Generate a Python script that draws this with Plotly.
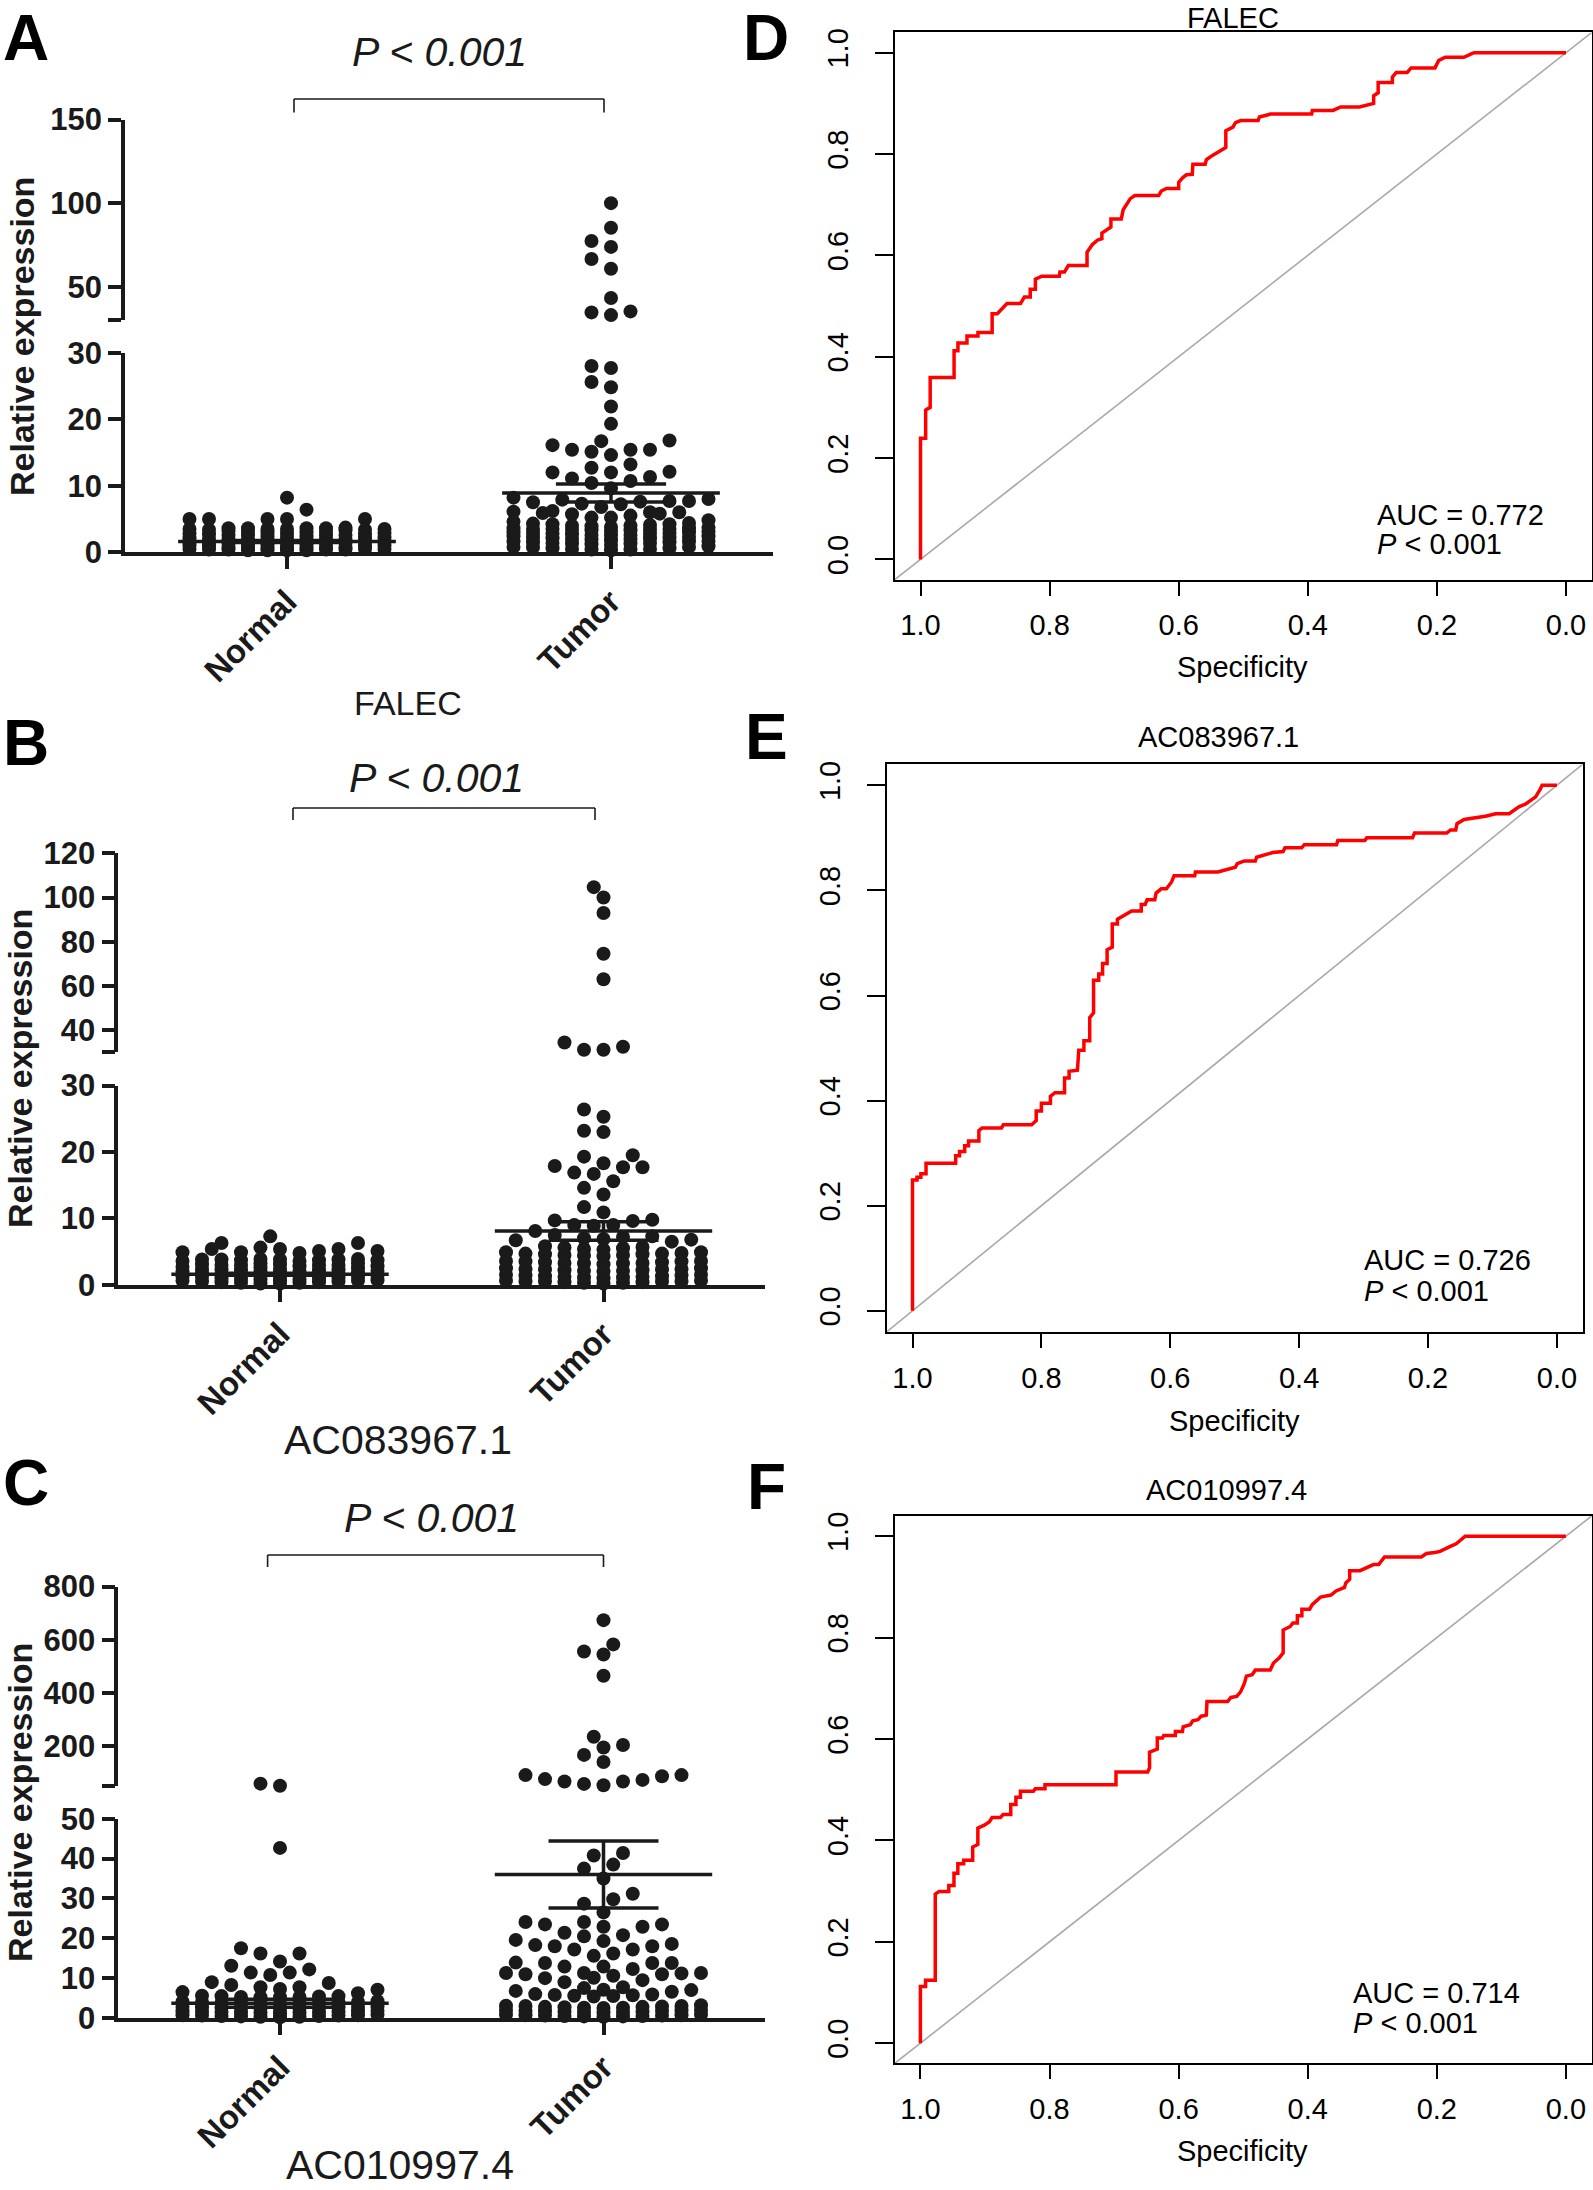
import plotly.graph_objects as go

W, H = 1593, 2190
FONT = "Liberation Sans, Arial, Helvetica, sans-serif"
INK = "#1a1a1a"

# ---------------------------------------------------------------- data
groups = ["Normal", "Tumor"]
genes = ["FALEC", "AC083967.1", "AC010997.4"]

falec_normal = [8.2, 6.4, 5.0, 5.0, 5.0, 5.0, 5.0,
                3.6, 3.5, 3.6, 3.4, 3.5, 3.7, 3.5, 3.6, 3.4, 3.5, 3.6, 3.3,
                0.3, 0.4, 0.3, 0.5, 0.4, 0.3, 0.6, 0.4, 0.5, 0.3, 0.4, 0.5,
                0.7, 0.8, 0.9, 0.7, 1.0, 0.8, 0.9, 1.1, 0.7, 1.0, 0.8,
                1.2, 1.3, 1.4, 1.2, 1.5, 1.3, 1.6, 1.4, 1.2, 1.5, 1.7,
                1.8, 2.0, 1.9, 2.1, 1.8, 2.2, 2.0, 1.9, 2.3, 2.1, 1.8,
                2.4, 2.6, 2.5, 2.7, 2.4, 2.8, 2.6, 2.5, 2.9, 2.7,
                3.0, 3.1, 2.9, 3.2, 3.0, 3.1]
falec_tumor = [100, 85.3, 77.3, 73.8, 66.6, 60.7, 43.2, 35.2, 34.6, 33.0,
               28.0, 27.7, 25.6, 24.8, 21.9, 19.3, 16.8, 16.7, 16.1, 15.4, 15.4, 15.4,
               15.1, 14.6, 13.2, 12.7, 12.1, 12.0, 12.0, 11.3, 11.1, 10.7, 10.4, 9.6,
               8.2, 8.0, 7.9, 7.7, 7.7, 7.6, 7.5, 7.3, 7.2, 6.8, 6.2, 6.1, 6.0, 6.0,
               5.9, 5.8, 5.7, 5.5, 5.2, 5.2,
               4.8, 4.6, 4.4, 4.2, 4.0, 4.1, 4.3, 3.9, 4.0, 3.8, 4.2,
               3.6, 3.4, 3.5, 3.7, 3.3, 3.5, 3.6, 3.4, 3.2, 3.5, 3.3,
               2.8, 3.0, 2.6, 2.9, 2.7, 3.1, 2.5, 2.8, 3.0, 2.6, 2.9,
               2.0, 2.2, 1.9, 2.4, 2.1, 2.3, 1.8, 2.2, 2.0, 2.4, 2.1,
               1.3, 1.5, 1.2, 1.6, 1.4, 1.7, 1.1, 1.5, 1.3, 1.6, 1.4,
               0.5, 0.7, 0.4, 0.8, 0.6, 0.9, 0.3, 0.6, 0.5, 0.8, 0.4]
falec_mean = [1.6, 8.9]
falec_sem = [0.15, 1.35]

ac083_normal = [7.3, 6.3, 6.3, 5.6, 5.4, 5.4, 5.4, 5.1, 5.1, 4.9, 4.9, 4.8,
                3.8, 3.8, 3.7, 3.6, 3.9, 3.7, 3.8, 3.6, 3.9, 3.7, 3.8,
                3.0, 2.8, 3.2, 2.9, 3.1, 2.7, 3.0, 2.8, 3.2, 2.9, 3.1,
                2.2, 2.0, 2.4, 2.1, 2.3, 1.9, 2.2, 2.0, 2.4, 2.1, 2.3,
                1.4, 1.2, 1.6, 1.3, 1.5, 1.1, 1.4, 1.2, 1.6, 1.3, 1.5,
                0.6, 0.4, 0.8, 0.5, 0.7, 0.3, 0.6, 0.4, 0.8, 0.5, 0.7,
                1.0, 0.9, 1.8, 1.7, 2.6, 0.2, 0.3, 0.2, 1.0, 2.5, 1.9]
ac083_tumor = [104.7, 100, 93, 74.5, 63, 34.3, 32.4, 31.0, 31.0,
               26.4, 25.3, 23.2, 23.0, 19.5, 19.3, 18.3, 17.9, 17.7, 17.7, 16.9, 16.7,
               15.6, 14.6, 13.6, 11.7, 10.9, 9.8, 9.7, 9.6, 9.0, 9.0, 8.9, 8.1,
               7.5, 7.3, 7.0, 6.9, 6.7, 6.5, 6.8, 7.2, 5.6, 5.5, 5.8, 5.4, 5.7, 5.3,
               4.9, 4.6, 4.5, 4.7, 4.4, 4.8, 4.5, 4.6, 4.3, 4.7, 4.9,
               3.5, 3.2, 3.6, 3.3, 3.4, 3.1, 3.5, 3.2, 3.6, 3.3, 3.4,
               2.4, 2.1, 2.5, 2.2, 2.3, 2.0, 2.4, 2.1, 2.5, 2.2, 2.3,
               1.4, 1.1, 1.5, 1.2, 1.3, 1.0, 1.4, 1.1, 1.5, 1.2, 1.3,
               0.5, 0.3, 0.6, 0.4, 0.5, 0.2, 0.5, 0.3, 0.6, 0.4, 0.5]
ac083_mean = [1.6, 8.1]
ac083_sem = [0.15, 1.4]

ac010_normal = [60, 52,
                42.7, 17.5, 16.2, 16.2, 14.2, 13.1, 12.2, 11.4, 11.4, 10.8, 9.0, 8.8,
                8.3, 7.7, 7.7, 7.3, 7.1, 6.5, 6.2,
                5.5, 5.3, 5.6, 5.2, 5.4, 5.5, 5.3, 5.2,
                4.0, 3.6, 4.2, 3.8, 3.5, 4.1, 3.7, 3.9, 3.6, 4.0, 3.8,
                2.6, 2.8, 2.4, 2.9, 2.5, 2.7, 2.3, 2.8, 2.6, 2.4, 2.7,
                1.5, 1.7, 1.3, 1.8, 1.4, 1.6, 1.2, 1.7, 1.5, 1.3, 1.6,
                0.5, 0.7, 0.3, 0.8, 0.4, 0.6, 0.2, 0.7, 0.5, 0.3, 0.6]
ac010_tumor = [674, 583, 556, 545, 465, 236, 205, 196, 168, 141,
               92, 92, 88, 77, 74, 68, 68, 59, 54,
               41.4, 40.8, 38.5, 37.5, 35.0, 31.2, 29.8, 28.7, 26.5, 24.1, 24.1,
               23.5, 23.5, 22.9, 22.9, 21.4, 20.8, 20.5, 19.6, 19.3, 18.6, 18.3,
               18.0, 18.0, 17.2, 17.2, 16.2, 15.6, 13.9, 13.8, 13.8, 13.8, 12.9,
               12.9, 12.3, 11.3, 11.3, 11.0, 11.3, 11.0, 10.6, 11.2, 10.1, 10.0,
               9.5, 9.0, 7.7, 7.1, 6.8, 7.0, 7.5, 6.6,
               5.8, 5.5, 5.9, 5.6, 5.4, 6.0, 5.7,
               3.0, 2.6, 3.2, 2.8, 2.5, 3.1, 2.7, 2.9, 2.6, 3.0, 2.8,
               1.8, 1.5, 2.0, 1.6, 1.9, 1.4, 1.7, 2.0, 1.6, 1.8, 1.5,
               0.6, 0.4, 0.8, 0.5, 0.7, 0.3, 0.6, 0.4, 0.8, 0.5, 0.7]
ac010_mean = [3.7, 36.0]
ac010_sem = [1.0, 8.4]

# ROC curves (specificity, sensitivity)
falec_spec = [1.000, 1.000, 0.992, 0.992, 0.985, 0.985, 0.948, 0.948, 0.942, 0.942,
              0.928, 0.928, 0.911, 0.911, 0.889, 0.889, 0.881, 0.866, 0.845, 0.839,
              0.830, 0.830, 0.822, 0.822, 0.812, 0.785, 0.784, 0.777, 0.771, 0.742,
              0.742, 0.734, 0.726, 0.719, 0.719, 0.705, 0.705, 0.689, 0.686, 0.681,
              0.675, 0.668, 0.631, 0.627, 0.619, 0.600, 0.600, 0.594, 0.588, 0.579,
              0.578, 0.559, 0.557, 0.549, 0.537, 0.527, 0.527, 0.516, 0.512, 0.504,
              0.477, 0.475, 0.463, 0.458, 0.394, 0.393, 0.361, 0.349, 0.320, 0.310,
              0.298, 0.298, 0.291, 0.291, 0.269, 0.269, 0.263, 0.246, 0.240, 0.203,
              0.197, 0.187, 0.158, 0.146, 0.142, 0.000]
falec_sens = [0.000, 0.239, 0.239, 0.295, 0.300, 0.359, 0.359, 0.412, 0.412, 0.427,
              0.427, 0.441, 0.441, 0.448, 0.448, 0.485, 0.485, 0.505, 0.505, 0.518,
              0.518, 0.533, 0.533, 0.553, 0.559, 0.559, 0.567, 0.567, 0.580, 0.580,
              0.606, 0.621, 0.630, 0.633, 0.644, 0.656, 0.672, 0.672, 0.690, 0.700,
              0.712, 0.718, 0.718, 0.727, 0.732, 0.732, 0.744, 0.753, 0.759, 0.760,
              0.780, 0.780, 0.789, 0.796, 0.806, 0.813, 0.846, 0.853, 0.862, 0.866,
              0.866, 0.873, 0.877, 0.879, 0.879, 0.886, 0.886, 0.893, 0.893, 0.897,
              0.900, 0.915, 0.921, 0.941, 0.941, 0.952, 0.961, 0.961, 0.970, 0.970,
              0.985, 0.991, 0.991, 0.998, 1.000, 1.000]

ac083_spec = [1.000, 1.000, 0.993, 0.993, 0.987, 0.987, 0.979, 0.979, 0.933, 0.933,
              0.927, 0.927, 0.919, 0.919, 0.913, 0.913, 0.897, 0.897, 0.892, 0.862,
              0.859, 0.815, 0.808, 0.808, 0.800, 0.800, 0.786, 0.786, 0.779, 0.764,
              0.764, 0.757, 0.757, 0.744, 0.742, 0.734, 0.734, 0.725, 0.725, 0.719,
              0.719, 0.711, 0.711, 0.705, 0.705, 0.698, 0.698, 0.690, 0.690, 0.682,
              0.682, 0.660, 0.645, 0.645, 0.639, 0.636, 0.624, 0.622, 0.614, 0.606,
              0.598, 0.594, 0.562, 0.561, 0.526, 0.499, 0.496, 0.485, 0.468, 0.466,
              0.441, 0.425, 0.422, 0.396, 0.392, 0.342, 0.340, 0.298, 0.295, 0.224,
              0.221, 0.171, 0.165, 0.157, 0.155, 0.144, 0.111, 0.095, 0.074, 0.059,
              0.049, 0.033, 0.026, 0.023, 0.000]
ac083_sens = [0.000, 0.249, 0.249, 0.254, 0.254, 0.261, 0.261, 0.281, 0.281, 0.295,
              0.295, 0.303, 0.303, 0.314, 0.314, 0.323, 0.323, 0.343, 0.348, 0.348,
              0.354, 0.354, 0.362, 0.380, 0.380, 0.395, 0.395, 0.408, 0.415, 0.415,
              0.443, 0.443, 0.456, 0.458, 0.496, 0.496, 0.514, 0.514, 0.558, 0.567,
              0.629, 0.629, 0.641, 0.641, 0.661, 0.661, 0.687, 0.692, 0.736, 0.736,
              0.745, 0.761, 0.761, 0.773, 0.773, 0.782, 0.782, 0.795, 0.803, 0.803,
              0.816, 0.828, 0.828, 0.835, 0.835, 0.844, 0.851, 0.856, 0.856, 0.863,
              0.872, 0.874, 0.881, 0.881, 0.887, 0.887, 0.895, 0.895, 0.900, 0.900,
              0.909, 0.909, 0.915, 0.915, 0.927, 0.935, 0.941, 0.946, 0.946, 0.959,
              0.964, 0.978, 0.992, 1.000, 1.000]

ac010_spec = [1.000, 1.000, 0.992, 0.992, 0.977, 0.977, 0.971, 0.956, 0.956, 0.948,
              0.948, 0.942, 0.942, 0.933, 0.933, 0.919, 0.919, 0.911, 0.911, 0.901,
              0.893, 0.889, 0.876, 0.872, 0.860, 0.860, 0.852, 0.852, 0.845, 0.845,
              0.825, 0.822, 0.807, 0.807, 0.697, 0.697, 0.648, 0.645, 0.645, 0.633,
              0.633, 0.625, 0.623, 0.605, 0.605, 0.594, 0.593, 0.582, 0.578, 0.570,
              0.565, 0.557, 0.556, 0.524, 0.519, 0.510, 0.504, 0.498, 0.495, 0.486,
              0.481, 0.458, 0.453, 0.444, 0.438, 0.438, 0.427, 0.423, 0.416, 0.416,
              0.409, 0.409, 0.397, 0.393, 0.386, 0.380, 0.364, 0.356, 0.343, 0.341,
              0.335, 0.335, 0.319, 0.310, 0.298, 0.290, 0.281, 0.224, 0.216, 0.203,
              0.195, 0.179, 0.170, 0.156, 0.000]
ac010_sens = [0.000, 0.112, 0.112, 0.124, 0.124, 0.294, 0.299, 0.299, 0.311, 0.311,
              0.335, 0.335, 0.354, 0.354, 0.361, 0.361, 0.387, 0.392, 0.424, 0.430,
              0.437, 0.445, 0.445, 0.451, 0.451, 0.471, 0.471, 0.485, 0.485, 0.497,
              0.497, 0.502, 0.502, 0.510, 0.510, 0.535, 0.535, 0.543, 0.574, 0.580,
              0.602, 0.602, 0.607, 0.607, 0.615, 0.615, 0.624, 0.628, 0.636, 0.638,
              0.645, 0.647, 0.674, 0.674, 0.682, 0.684, 0.693, 0.710, 0.724, 0.727,
              0.736, 0.736, 0.750, 0.760, 0.770, 0.815, 0.822, 0.829, 0.829, 0.843,
              0.843, 0.856, 0.856, 0.865, 0.873, 0.880, 0.884, 0.892, 0.899, 0.908,
              0.915, 0.932, 0.932, 0.937, 0.944, 0.944, 0.959, 0.959, 0.966, 0.968,
              0.970, 0.980, 0.985, 1.000, 1.000]

auc_values = [0.772, 0.726, 0.714]

# ---------------------------------------------------------------- helpers
def X(p):
    return p / W


def Y(p):
    return 1 - p / H


def ax(prefix, n):
    return prefix if n == 1 else f"{prefix}{n}"


def swarm(ypix, d=14.0, col=19.5, ncol=11):
    """2-D beeswarm on a half-column grid, bottom-up; dense rows fall back to columns."""
    half = ncol // 2
    order = sorted(range(len(ypix)), key=lambda i: -ypix[i])
    cands = [0.0]
    for k in range(1, 2 * half + 1):
        cands += [-k / 2, k / 2]
    ints = [0.0]
    for k in range(1, half + 1):
        ints += [-float(k), float(k)]
    placed = []
    off = [0.0] * len(ypix)
    for i in order:
        y = ypix[i]
        chosen = None
        for c in cands:
            ok = True
            for (pc, py) in placed:
                dx = (c - pc) * col
                dy = y - py
                if dx * dx + dy * dy < d * d:
                    ok = False
                    break
            if ok:
                chosen = c
                break
        if chosen is None:
            best = -1.0
            for c in ints:
                m = min(((c - pc) * col) ** 2 + (y - py) ** 2 for (pc, py) in placed)
                if m > best + 0.25:
                    best, chosen = m, c
        placed.append((chosen, y))
        off[i] = chosen
    return off


fig = go.Figure()
annotations = []
shapes = []
layout = {}

# ---------------------------------------------------------------- dot panels A-C
dot_panels = [
    dict(letter="A", normal=falec_normal, tumor=falec_tumor, mean=falec_mean, sem=falec_sem,
         gene=genes[0], x0=287, xu=324, brk=30, top=150,
         lo_px=(552.2, 352.7), up_px=(320.1, 119.6),
         lo_ticks=[0, 10, 20, 30], up_ticks=[30, 50, 100, 150],
         letter_y=None, p_xy=(439, 52), br=(294, 604, 99, 112.5),
         gene_xy=(408, 703), gene_size=34, ylab_xy=(22, 337)),
    dict(letter="B", normal=ac083_normal, tumor=ac083_tumor, mean=ac083_mean, sem=ac083_sem,
         gene=genes[1], x0=280, xu=323.5, brk=30, top=120,
         lo_px=(1284.8, 1085.6), up_px=(1052.0, 853.4),
         lo_ticks=[0, 10, 20, 30], up_ticks=[30, 40, 60, 80, 100, 120],
         letter_y=743, p_xy=(436, 778), br=(293, 595, 808, 820),
         gene_xy=(398, 1440), gene_size=41, ylab_xy=(20, 1069)),
    dict(letter="C", normal=ac010_normal, tumor=ac010_tumor, mean=ac010_mean, sem=ac010_sem,
         gene=genes[2], x0=280, xu=323.5, brk=50, top=800,
         lo_px=(2018.0, 1818.8), up_px=(1786.3, 1586.6),
         lo_ticks=[0, 10, 20, 30, 40, 50], up_ticks=[50, 200, 400, 600, 800],
         letter_y=1483, p_xy=(431, 1518), br=(267.6, 603.5, 1555, 1567),
         gene_xy=(400, 2165), gene_size=41, ylab_xy=(20, 1803)),
]

AXW = 3.5
TICKFONT = dict(family=FONT, size=31, color=INK, weight="bold")
LETTERFONT = dict(family=FONT, size=64, color="#000000")


def letter_annotation(letter, xpx, ypx):
    if ypx is None:  # top row: hang from the top edge
        return dict(text=f"<b>{letter}</b>", x=X(xpx), y=1, xref="paper", yref="paper",
                    showarrow=False, xanchor="center", yanchor="top", font=LETTERFONT)
    return dict(text=f"<b>{letter}</b>", x=X(xpx), y=Y(ypx), xref="paper", yref="paper",
                showarrow=False, xanchor="center", yanchor="middle", font=LETTERFONT)


for k, p in enumerate(dot_panels):
    xi = k + 1
    yl, yu = 2 * k + 1, 2 * k + 2
    xref, ylref, yuref = ax("x", xi), ax("y", yl), ax("y", yu)

    def to_px(v, p=p):
        lo0, lo1 = p["lo_px"]
        up0, up1 = p["up_px"]
        if v <= p["brk"]:
            return lo0 + (lo1 - lo0) * v / p["brk"]
        return up0 + (up1 - up0) * (v - p["brk"]) / (p["top"] - p["brk"])

    for g, vals in enumerate([p["normal"], p["tumor"]]):
        ypix = [to_px(v) for v in vals]
        offs = swarm(ypix)
        step = 19.5 / p["xu"]
        lx, ly, ux, uy = [], [], [], []
        for v, o in zip(vals, offs):
            if v <= p["brk"]:
                lx.append(g + o * step)
                ly.append(v)
            else:
                ux.append(g + o * step)
                uy.append(v)
        mk = dict(size=14, color=INK, line=dict(width=0))
        fig.add_trace(go.Scatter(x=lx, y=ly, mode="markers", marker=mk, xaxis=xref,
                                 yaxis=ylref, cliponaxis=False, showlegend=False))
        if ux:
            fig.add_trace(go.Scatter(x=ux, y=uy, mode="markers", marker=mk, xaxis=xref,
                                     yaxis=yuref, cliponaxis=False, showlegend=False))
        m, s = p["mean"][g], p["sem"][g]
        hw, sw = 0.336, 0.17
        fig.add_trace(go.Scatter(
            x=[g - hw, g + hw, None, g - sw, g + sw, None, g - sw, g + sw, None, g, g],
            y=[m, m, None, m + s, m + s, None, m - s, m - s, None, m - s, m + s],
            mode="lines", line=dict(color=INK, width=AXW), xaxis=xref, yaxis=ylref,
            cliponaxis=False, showlegend=False))

    xl = X(p["x0"] - 0.5 * p["xu"])
    xr = X(p["x0"] + 1.5 * p["xu"])
    layout[ax("xaxis", xi)] = dict(
        domain=[xl, xr], range=[-0.5, 1.5], anchor=ylref, automargin=False,
        tickvals=[0, 1], ticktext=groups, tickangle=-45,
        ticks="outside", ticklen=13, tickwidth=AXW, tickcolor=INK,
        showline=True, linewidth=AXW, linecolor=INK, showgrid=False, zeroline=False,
        tickfont=dict(family=FONT, size=33, color=INK, weight="bold"), fixedrange=True)
    lo0, lo1 = p["lo_px"]
    up0, up1 = p["up_px"]
    layout[ax("yaxis", yl)] = dict(
        domain=[Y(lo0), Y(lo1)], range=[0, p["brk"]], anchor=xref, automargin=False,
        tickvals=p["lo_ticks"], ticks="outside", ticklen=13, tickwidth=AXW, tickcolor=INK,
        showline=True, linewidth=AXW, linecolor=INK, showgrid=False, zeroline=False,
        tickfont=TICKFONT, fixedrange=True)
    layout[ax("yaxis", yu)] = dict(
        domain=[Y(up0), Y(up1)], range=[p["brk"], p["top"]], anchor=xref, automargin=False,
        tickvals=p["up_ticks"], ticktext=[""] + [str(t) for t in p["up_ticks"][1:]],
        ticks="outside", ticklen=13, tickwidth=AXW, tickcolor=INK,
        showline=True, linewidth=AXW, linecolor=INK, showgrid=False, zeroline=False,
        tickfont=TICKFONT, fixedrange=True)

    # texts
    annotations.append(letter_annotation(p["letter"], 26, p["letter_y"]))
    px_, py_ = p["p_xy"]
    annotations.append(dict(text="<i>P &lt; 0.001</i>", x=X(px_), y=Y(py_), xref="paper",
                            yref="paper", showarrow=False, xanchor="center", yanchor="middle",
                            font=dict(family=FONT, size=41, color=INK)))
    gx, gy = p["gene_xy"]
    annotations.append(dict(text=p["gene"], x=X(gx), y=Y(gy), xref="paper", yref="paper",
                            showarrow=False, xanchor="center", yanchor="middle",
                            font=dict(family=FONT, size=p["gene_size"], color=INK)))
    yx, yy = p["ylab_xy"]
    annotations.append(dict(text="<b>Relative expression</b>", x=X(yx), y=Y(yy),
                            xref="paper", yref="paper", showarrow=False, textangle=-90,
                            xanchor="center", yanchor="middle",
                            font=dict(family=FONT, size=34, color=INK)))
    bx0, bx1, by0, by1 = p["br"]
    for (a, b, c, d) in [(bx0, by0, bx1, by0), (bx0, by0, bx0, by1), (bx1, by0, bx1, by1)]:
        shapes.append(dict(type="line", xref="paper", yref="paper",
                           x0=X(a), y0=Y(b), x1=X(c), y1=Y(d),
                           line=dict(color=INK, width=1.6)))

# ---------------------------------------------------------------- ROC panels D-F
roc_panels = [
    dict(letter="D", spec=falec_spec, sens=falec_sens, auc=auc_values[0], gene=genes[0],
         x1px=920.5, x0px=1566.0, y0px=559.4, y1px=52.7, letter_y=None,
         title_xy=(1233, None), spec_xy=(1242, 667), auc_x=1375, auc_y=(515, 544)),
    dict(letter="E", spec=ac083_spec, sens=ac083_sens, auc=auc_values[1], gene=genes[1],
         x1px=912.5, x0px=1556.9, y0px=1310.8, y1px=785.3, letter_y=737,
         title_xy=(1218, 737), spec_xy=(1234, 1421), auc_x=1362, auc_y=(1260, 1291)),
    dict(letter="F", spec=ac010_spec, sens=ac010_sens, auc=auc_values[2], gene=genes[2],
         x1px=920.4, x0px=1565.9, y0px=2043.2, y1px=1536.2, letter_y=1487,
         title_xy=(1226, 1490), spec_xy=(1242, 2151), auc_x=1351, auc_y=(1993, 2023)),
]
ext = 0.04
rocfont = dict(family=FONT, size=29, color="#000000")
for k, r in enumerate(roc_panels):
    xi = 4 + k
    yi = 7 + k
    xref, yref = ax("x", xi), ax("y", yi)
    xs = r["x0px"] - r["x1px"]
    ys = r["y0px"] - r["y1px"]
    layout[ax("xaxis", xi)] = dict(
        domain=[X(r["x1px"] - ext * xs), X(r["x0px"] + ext * xs)],
        range=[1 + ext, -ext], anchor=yref, automargin=False,
        tickvals=[0, 0.2, 0.4, 0.6, 0.8, 1.0], tickformat=".1f",
        ticks="outside", ticklen=14, tickwidth=1.6, tickcolor="#000000",
        showline=True, mirror=True, linewidth=2, linecolor="#000000",
        showgrid=False, zeroline=False, tickfont=rocfont, ticklabelstandoff=5,
        fixedrange=True)
    layout[ax("yaxis", yi)] = dict(
        domain=[Y(r["y0px"] + ext * ys), Y(r["y1px"] - ext * ys)],
        range=[-ext, 1 + ext], anchor=xref, automargin=False,
        tickvals=[0, 0.2, 0.4, 0.6, 0.8, 1.0], tickformat=".1f", tickangle=-90,
        ticks="outside", ticklen=18, tickwidth=1.6, tickcolor="#000000",
        showline=True, mirror=True, linewidth=2, linecolor="#000000",
        showgrid=False, zeroline=False, tickfont=rocfont, ticklabelstandoff=15,
        fixedrange=True)
    fig.add_trace(go.Scatter(x=[1 + ext, -ext], y=[-ext, 1 + ext], mode="lines",
                             line=dict(color="#a9a9a9", width=1.6), xaxis=xref, yaxis=yref,
                             showlegend=False))
    fig.add_trace(go.Scatter(x=r["spec"], y=r["sens"], mode="lines",
                             line=dict(color="#ff0000", width=3.5), xaxis=xref, yaxis=yref,
                             showlegend=False))
    annotations.append(letter_annotation(r["letter"], 766, r["letter_y"]))
    tx, ty = r["title_xy"]
    if ty is None:
        annotations.append(dict(text=r["gene"], x=X(tx), y=1, xref="paper", yref="paper",
                                showarrow=False, xanchor="center", yanchor="top",
                                font=rocfont))
    else:
        annotations.append(dict(text=r["gene"], x=X(tx), y=Y(ty), xref="paper", yref="paper",
                                showarrow=False, xanchor="center", yanchor="middle",
                                font=rocfont))
    sx, sy = r["spec_xy"]
    annotations.append(dict(text="Specificity", x=X(sx), y=Y(sy), xref="paper", yref="paper",
                            showarrow=False, xanchor="center", yanchor="middle", font=rocfont))
    annotations.append(dict(text=f"AUC = {r['auc']:.3f}", x=X(r["auc_x"]), y=Y(r["auc_y"][0]),
                            xref="paper", yref="paper", showarrow=False, xanchor="left",
                            yanchor="middle", font=rocfont))
    annotations.append(dict(text="<i>P</i> &lt; 0.001", x=X(r["auc_x"]), y=Y(r["auc_y"][1]),
                            xref="paper", yref="paper", showarrow=False, xanchor="left",
                            yanchor="middle", font=rocfont))

fig.update_layout(
    width=W, height=H, margin=dict(l=0, r=0, t=0, b=0, pad=0, autoexpand=False),
    paper_bgcolor="white", plot_bgcolor="white", showlegend=False,
    annotations=annotations, shapes=shapes, **layout)

fig.write_html("out.html", config={"displayModeBar": False},
               post_script="document.body.style.margin='0px';")
